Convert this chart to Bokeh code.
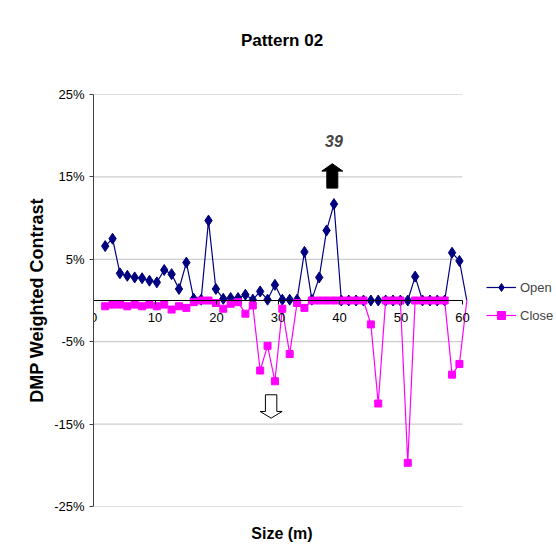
from bokeh.plotting import figure
from bokeh.models import (FixedTicker, Legend, LegendItem, Label, Range1d,
                          PrintfTickFormatter, LinearAxis, ColumnDataSource,
                          CDSView, BooleanFilter)
from bokeh.embed import file_html
from bokeh.resources import INLINE

# ---------------- data ----------------
size_m = [1.9, 3.1, 4.3, 5.5, 6.7, 7.9, 9.1, 10.3, 11.5, 12.7,
          13.9, 15.1, 16.3, 17.5, 18.7, 19.9, 21.1, 22.3, 23.5, 24.7,
          25.9, 27.1, 28.3, 29.5, 30.7, 31.9, 33.1, 34.3, 35.5, 36.7,
          37.9, 39.1, 40.3, 41.5, 42.7, 43.9, 45.1, 46.3, 47.5, 48.7,
          49.9, 51.1, 52.3, 53.5, 54.7, 55.9, 57.1, 58.3, 59.5, 60.7]

open_pct = [6.6, 7.5, 3.3, 3.0, 2.8, 2.7, 2.4, 2.2, 3.7, 3.2,
            1.4, 4.6, 0.2, 0.1, 9.7, 1.4, 0.2, 0.3, 0.3, 0.7,
            0.1, 1.1, 0.1, 1.9, 0.1, 0.1, 0.1, 5.9, 0.1, 2.8,
            8.5, 11.7, 0.0, 0.0, 0.0, 0.0, 0.0, 0.0, 0.0, 0.0,
            0.0, 0.0, 2.9, 0.0, 0.0, 0.0, 0.0, 5.8, 4.8, 0.0]

close_pct = [-0.7, -0.5, -0.5, -0.7, -0.5, -0.7, -0.5, -0.7, -0.5, -1.1,
             -0.7, -0.9, -0.2, 0.0, 0.0, -0.3, -1.0, -0.4, -0.2, -1.6,
             -0.6, -8.5, -5.5, -9.8, -1.0, -6.5, -0.3, -0.9, 0.0, 0.0,
             0.0, 0.0, 0.0, 0.0, 0.0, 0.0, -2.9, -12.5, 0.0, 0.0,
             0.0, -19.7, 0.0, 0.0, 0.0, 0.0, 0.0, -9.0, -7.7, 0.0]

x_ticks = [0, 10, 20, 30, 40, 50, 60]
y_ticks = [-25, -15, -5, 5, 15, 25]
series_names = ["Open", "Close"]
chart_title = "Pattern 02"
peak_label = "39"

FONT = "Liberation Sans"

PX_PER_X = 369 / 60          # pixels per metre
FH = 412
X0, X1 = 0, 61.3             # a little room right of 60 so its tick label shows
Y0, Y1 = -25, 25
FW = round((X1 - X0) * PX_PER_X)
FIG_W, FIG_H = 556, 560
LEFT, TOP = 93, 94

p = figure(frame_width=FW, frame_height=FH, title=None,
           x_range=Range1d(X0, X1), y_range=Range1d(Y0, Y1),
           output_backend="svg", toolbar_location=None,
           min_border_left=LEFT, min_border_right=FIG_W - LEFT - FW,
           min_border_top=TOP, min_border_bottom=FIG_H - TOP - FH,
           outline_line_color=None,
           background_fill_color="white", border_fill_color="white")

xa = p.below[0]
ya = p.left[0]


def bare_axis(label, standoff, size):
    return LinearAxis(ticker=FixedTicker(ticks=[]), axis_line_color=None,
                      major_tick_out=0, major_tick_in=0, minor_tick_out=0,
                      minor_tick_in=0, major_tick_line_color=None,
                      minor_tick_line_color=None, major_label_standoff=0,
                      axis_label=label, axis_label_standoff=standoff,
                      axis_label_text_font=FONT, axis_label_text_font_size=size,
                      axis_label_text_font_style="bold",
                      axis_label_text_color="black")


# chart title above the frame
p.add_layout(bare_axis(chart_title, 45, "17px"), "above")

# x axis through zero
xa.fixed_location = 0
xa.bounds = (x_ticks[0], x_ticks[-1])
xa.ticker = FixedTicker(ticks=x_ticks)
xa.major_tick_out = 4
xa.major_tick_in = 0
xa.minor_tick_line_color = None
xa.major_label_standoff = 8
xa.axis_line_color = "black"
xa.major_tick_line_color = "black"
xa.major_label_text_font = FONT
xa.major_label_text_font_size = "13px"
xa.major_label_text_color = "black"

# x axis title below the frame
p.add_layout(bare_axis("Size (m)", 18, "16px"), "below")

# y axis
ya.ticker = FixedTicker(ticks=y_ticks)
ya.formatter = PrintfTickFormatter(format="%d%%")
ya.major_tick_out = 4
ya.major_tick_in = 0
ya.minor_tick_line_color = None
ya.major_label_standoff = 5
ya.axis_line_color = "#404040"
ya.major_tick_line_color = "#404040"
ya.major_label_text_font = FONT
ya.major_label_text_font_size = "13px"
ya.major_label_text_color = "black"
ya.axis_label = "DMP Weighted Contrast"
ya.axis_label_text_font = FONT
ya.axis_label_text_font_size = "18px"
ya.axis_label_text_font_style = "bold"
ya.axis_label_text_color = "black"
ya.axis_label_standoff = 4

# horizontal grid lines, only across the 0..60 span
p.xgrid.visible = False
p.ygrid.visible = False
p.segment(x0=[x_ticks[0]] * len(y_ticks), x1=[x_ticks[-1]] * len(y_ticks),
          y0=y_ticks, y1=y_ticks, line_color="#c0c0c0", line_width=1)

# series
src = ColumnDataSource(dict(x=size_m, o=open_pct, c=close_pct))
inside = CDSView(filter=BooleanFilter([v <= x_ticks[-1] for v in size_m]))

l1 = p.line("x", "o", source=src, line_color="#000080", line_width=1.2)
s1 = p.scatter("x", "o", source=src, view=inside, marker="diamond", size=11,
               fill_color="#000080", line_color="#000080")
l2 = p.line("x", "c", source=src, line_color="#FF00FF", line_width=1.2)
s2 = p.scatter("x", "c", source=src, view=inside, marker="square", size=7,
               fill_color="#FF00FF", line_color="#FF00FF")

legend = Legend(items=[LegendItem(label=series_names[0], renderers=[l1, s1]),
                       LegendItem(label=series_names[1], renderers=[l2, s2])],
                location=(16, 181), padding=0, margin=0, spacing=8,
                glyph_width=30, glyph_height=20, label_height=20,
                label_standoff=4, border_line_color=None,
                background_fill_alpha=0,
                label_text_font=FONT, label_text_font_size="13px")
p.add_layout(legend, "right")

# annotations: arrows built from tip position and pixel sizes
PX_Y = FH / (Y1 - Y0)


def arrow_poly(xt, yt, d, head_len, head_half, shaft_half, total_len):
    hx, sx = head_half / PX_PER_X, shaft_half / PX_PER_X
    hl, tl = d * head_len / PX_Y, d * total_len / PX_Y
    xs = [xt, xt + hx, xt + sx, xt + sx, xt - sx, xt - sx, xt - hx]
    ys = [yt, yt - hl, yt - hl, yt - tl, yt - tl, yt - hl, yt - hl]
    return xs, ys


ux, uy = arrow_poly(38.83, 16.6, 1, 7.4, 10.5, 5.5, 24.4)
p.patch(ux, uy, fill_color="black", line_color="black", line_width=1)
dx, dy = arrow_poly(28.88, -14.28, -1, 6.7, 11, 5.7, 23.4)
p.patch(dx, dy, fill_color="white", line_color="black", line_width=1)

p.add_layout(Label(x=39.1, y=19.3, text=peak_label, text_align="center",
                   text_baseline="middle", text_font=FONT,
                   text_font_size="16px", text_font_style="bold italic"))

open("out.html", "w").write(file_html(p, INLINE))
